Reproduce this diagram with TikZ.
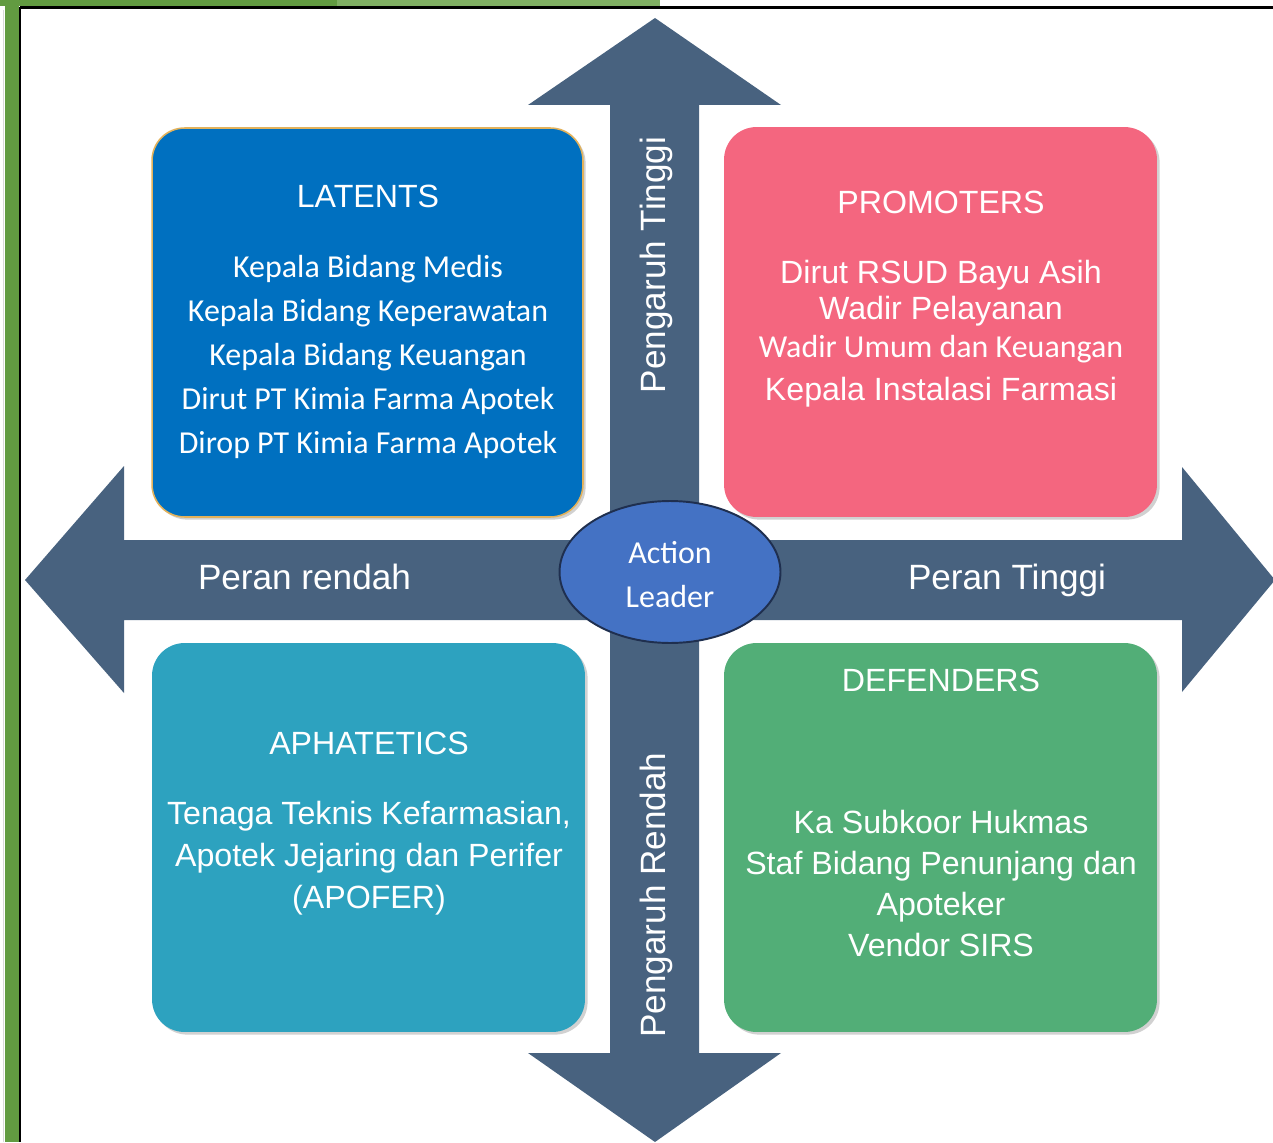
\documentclass[tikz,border=0pt]{standalone}
\usepackage{fontspec}
\setmainfont{Liberation Sans}
\newfontfamily\calfont{Carlito}
\usetikzlibrary{shapes.geometric}
\definecolor{arrowblue}{HTML}{48627F}
\definecolor{latblue}{HTML}{0070C0}
\definecolor{latborder}{HTML}{E2B25C}
\definecolor{prompink}{HTML}{F4667F}
\definecolor{aphteal}{HTML}{2DA2BF}
\definecolor{defgreen}{HTML}{52AE77}
\definecolor{leaderblue}{HTML}{4472C4}
\definecolor{leaderedge}{HTML}{1F2F4F}
\definecolor{framegreen}{HTML}{629B41}
\definecolor{framelight}{HTML}{80B063}
\begin{document}
\begin{tikzpicture}[x=0.02cm,y=-0.02cm,
  txt/.style={text=white, font=\fontsize{18.3}{22}\selectfont, anchor=base, inner sep=0pt, outer sep=0pt},
  caltxt/.style={txt, font=\calfont\fontsize{18.2}{22}\selectfont},
  axistxt/.style={txt, font=\fontsize{20}{24}\selectfont},
  quad/.style={rectangle, rounded corners=0.65cm, inner sep=0pt, outer sep=0pt,
    minimum width=8.66cm, minimum height=7.78cm,
    preaction={fill=black, opacity=0.18, transform canvas={xshift=1.5pt, yshift=-1.5pt}}},
  bigarrow/.style={fill=arrowblue, draw=none}]
\useasboundingbox (0,0) rectangle (1273,1142);
% frame
\fill[framegreen] (5,0) rectangle (19,1142);
\fill[framegreen] (0,0) rectangle (337,6);
\fill[framelight] (337,0) rectangle (660,6);
\draw[black, line width=1.2pt] (20,7.5) -- (20,1142);
\draw[black, line width=1.2pt] (20,7.5) -- (1273,7.5);
\draw[black!15, line width=0.6pt] (3.5,10) -- (3.5,1142);
% arrows
\fill[bigarrow] (655,18) -- (781,105) -- (699,105) -- (699,1053) -- (781,1053) -- (655,1142)
  -- (528,1053) -- (610,1053) -- (610,105) -- (528,105) -- cycle;
\fill[bigarrow] (25,580) -- (124,466) -- (124,540) -- (1182,540) -- (1182,467) -- (1275,580)
  -- (1182,692) -- (1182,620) -- (124,620) -- (124,693) -- cycle;
% boxes
\node[quad, fill=latblue, draw=latborder, line width=0.9pt, minimum width=8.62cm] (latents) at (367.5,322.5) {};
\node[quad, fill=prompink, minimum height=7.8cm] (promoters) at (940.5,322) {};
\node[quad, fill=aphteal] (aphatetics) at (368.5,837.5) {};
\node[quad, fill=defgreen] (defenders) at (940.5,837.5) {};
% latents text
\node[txt] (latT) at (368,207) {LATENTS};
\node[caltxt] (lat1) at (368,277) {Kepala Bidang Medis};
\node[caltxt] (lat2) at (368,321) {Kepala Bidang Keperawatan};
\node[caltxt] (lat3) at (368,365) {Kepala Bidang Keuangan};
\node[caltxt] (lat4) at (368,409) {Dirut PT Kimia Farma Apotek};
\node[caltxt] (lat5) at (368,453) {Dirop PT Kimia Farma Apotek};
% promoters text
\node[txt] (promT) at (941,214) {PROMOTERS};
\node[txt] (prom1) at (941,283) {Dirut RSUD Bayu Asih};
\node[txt] (prom2) at (941,319) {Wadir Pelayanan};
\node[caltxt] (prom3) at (941,357) {Wadir Umum dan Keuangan};
\node[txt] (prom4) at (941,400) {Kepala Instalasi Farmasi};
% aphatetics text
\node[txt] (aphT) at (369,754) {APHATETICS};
\node[txt] (aph1) at (369,824) {Tenaga Teknis Kefarmasian,};
\node[txt] (aph2) at (369,866) {Apotek Jejaring dan Perifer};
\node[txt] (aph3) at (369,908) {(APOFER)};
% defenders text
\node[txt] (defT) at (941,691) {DEFENDERS};
\node[txt] (def1) at (941,833) {Ka Subkoor Hukmas};
\node[txt] (def2) at (941,874) {Staf Bidang Penunjang dan};
\node[txt] (def3) at (941,915) {Apoteker};
\node[txt] (def4) at (941,956) {Vendor SIRS};
% axis labels
\node[axistxt, anchor=base west] (peranR) at (198,589) {Peran rendah};
\node[axistxt, anchor=base west] (peranT) at (908,589) {Peran Tinggi};
\node[axistxt, rotate=90] (pengT) at (665,265) {Pengaruh Tinggi};
\node[axistxt, rotate=90] (pengR) at (665,895) {Pengaruh Rendah};
% leader
\node[ellipse, fill=leaderblue, draw=leaderedge, line width=1.1pt, minimum width=4.42cm, minimum height=2.84cm, inner sep=0pt] (leader) at (670,572) {};
\node[caltxt] (lead1) at (670,563) {Action};
\node[caltxt] (lead2) at (670,607) {Leader};
\end{tikzpicture}
\end{document}
